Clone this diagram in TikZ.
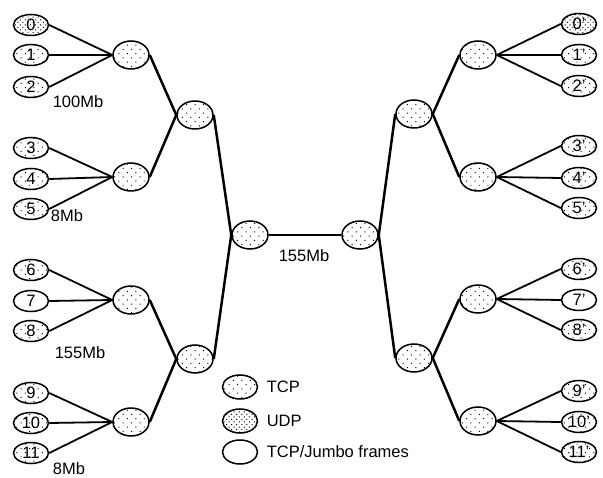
\documentclass[tikz,border=0pt]{standalone}
\usepackage{fontspec}
\setmainfont{Liberation Sans}
\usepackage{tikz}
\usetikzlibrary{shapes.geometric,patterns.meta}
\tikzset{
	host/.style={ellipse, draw, line width=1.5pt, inner sep=0pt,
		minimum width=35pt, minimum height=21pt},
	router/.style={ellipse, draw, line width=1.5pt, inner sep=0pt,
		minimum width=36pt, minimum height=28pt},
	tcp/.style={pattern={Dots[distance=6pt, radius=0.7pt, angle=45]}},
	udp/.style={pattern={Dots[distance=3.6pt, radius=0.7pt, angle=45]}},
	link/.style={line width=1.8pt},
	trunk/.style={line width=2.5pt},
	ratelabel/.style={font=\fontsize{16.5}{18}\selectfont}
}

\begin{document}
\begin{tikzpicture}[x=1pt, y=-1pt, font=\fontsize{16.5}{18}\selectfont]
	\useasboundingbox (0,0) rectangle (603,478);
	
	%% -- senders (left)
	\node[host, udp] (src0) at (31,25) {0};
	\node[host, tcp] (src1) at (31,55) {1};
	\node[host, tcp] (src2) at (31,87) {2};
	\node[host, tcp] (src3) at (31,148) {3};
	\node[host, tcp] (src4) at (31,179) {4};
	\node[host, tcp] (src5) at (31,209) {5};
	\node[host, tcp] (src6) at (31,270) {6};
	\node[host] (src7) at (31,301) {7};
	\node[host, tcp] (src8) at (31,331) {8};
	\node[host, tcp] (src9) at (31,393) {9};
	\node[host, tcp] (src10) at (31,423) {10};
	\node[host, tcp] (src11) at (31,453) {11};
	
	%% -- receivers (right)
	\node[host, udp] (dst0) at (579,24) {0'};
	\node[host, tcp] (dst1) at (579,55) {1'};
	\node[host, tcp] (dst2) at (579,86) {2'};
	\node[host, tcp] (dst3) at (579,146) {3'};
	\node[host, tcp] (dst4) at (579,178) {4'};
	\node[host, tcp] (dst5) at (579,208) {5'};
	\node[host, tcp] (dst6) at (579,269) {6'};
	\node[host] (dst7) at (579,300) {7'};
	\node[host, tcp] (dst8) at (579,330) {8'};
	\node[host, tcp] (dst9) at (579,391) {9'};
	\node[host, tcp] (dst10) at (579,422) {10'};
	\node[host, tcp] (dst11) at (579,452) {11'};
	
	%% -- access routers
	\node[router, tcp] (accL1) at (131,55) {};
	\node[router, tcp] (accL2) at (131,177) {};
	\node[router, tcp] (accL3) at (131,300) {};
	\node[router, tcp] (accL4) at (131,422) {};
	\node[router, tcp] (accR1) at (478,55) {};
	\node[router, tcp] (accR2) at (478,177) {};
	\node[router, tcp] (accR3) at (478,299) {};
	\node[router, tcp] (accR4) at (478,421) {};
	
	%% -- aggregation and core routers
	\node[router, tcp] (aggL1) at (195,115) {};
	\node[router, tcp] (aggL2) at (195,359) {};
	\node[router, tcp] (aggR1) at (414,114) {};
	\node[router, tcp] (aggR2) at (414,358) {};
	\node[router, tcp] (coreL) at (250,235) {};
	\node[router, tcp] (coreR) at (360,235) {};
	
	%% -- host links
	\draw[link] (src0.east) -- (accL1.west);
	\draw[link] (src1.east) -- (accL1.west);
	\draw[link] (src2.east) -- (accL1.west);
	\draw[link] (src3.east) -- (accL2.west);
	\draw[link] (src4.east) -- (accL2.west);
	\draw[link] (src5.east) -- (accL2.west);
	\draw[link] (src6.east) -- (accL3.west);
	\draw[link] (src7.east) -- (accL3.west);
	\draw[link] (src8.east) -- (accL3.west);
	\draw[link] (src9.east) -- (accL4.west);
	\draw[link] (src10.east) -- (accL4.west);
	\draw[link] (src11.east) -- (accL4.west);
	\draw[link] (dst0.west) -- (accR1.east);
	\draw[link] (dst1.west) -- (accR1.east);
	\draw[link] (dst2.west) -- (accR1.east);
	\draw[link] (dst3.west) -- (accR2.east);
	\draw[link] (dst4.west) -- (accR2.east);
	\draw[link] (dst5.west) -- (accR2.east);
	\draw[link] (dst6.west) -- (accR3.east);
	\draw[link] (dst7.west) -- (accR3.east);
	\draw[link] (dst8.west) -- (accR3.east);
	\draw[link] (dst9.west) -- (accR4.east);
	\draw[link] (dst10.west) -- (accR4.east);
	\draw[link] (dst11.west) -- (accR4.east);
	
	%% -- router tree
	\draw[trunk] (accL1.east) -- (aggL1.west);
	\draw[trunk] (accL2.east) -- (aggL1.west);
	\draw[trunk] (accL3.east) -- (aggL2.west);
	\draw[trunk] (accL4.east) -- (aggL2.west);
	\draw[trunk] (aggL1.east) -- (coreL.west);
	\draw[trunk] (aggL2.east) -- (coreL.west);
	\draw[trunk] (accR1.west) -- (aggR1.east);
	\draw[trunk] (accR2.west) -- (aggR1.east);
	\draw[trunk] (accR3.west) -- (aggR2.east);
	\draw[trunk] (accR4.west) -- (aggR2.east);
	\draw[trunk] (aggR1.west) -- (coreR.east);
	\draw[trunk] (aggR2.west) -- (coreR.east);
	
	%% -- bottleneck
	\draw[line width=1.2pt] (coreL.east) -- (coreR.west);
	
	%% -- link rates
	\node[ratelabel] (rate1) at (78,102) {100Mb};
	\node[ratelabel] (rate2) at (67,216) {8Mb};
	\node[ratelabel] (rate3) at (80,353) {155Mb};
	\node[ratelabel] (rate4) at (69,469) {8Mb};
	\node[ratelabel] (rate5) at (304,256) {155Mb};
	
	%% -- legend
	\node[host, tcp, minimum height=24pt] (keytcp) at (240,387) {};
	\node[host, udp, minimum height=24pt] (keyudp) at (240,421) {};
	\node[host, minimum height=24pt] (keyjumbo) at (240,452) {};
	\node[anchor=west] at ([xshift=5pt]keytcp.east) {TCP};
	\node[anchor=west] at ([xshift=5pt]keyudp.east) {UDP};
	\node[anchor=west] at ([xshift=5pt]keyjumbo.east) {TCP/Jumbo frames};
	
\end{tikzpicture}
\end{document}
